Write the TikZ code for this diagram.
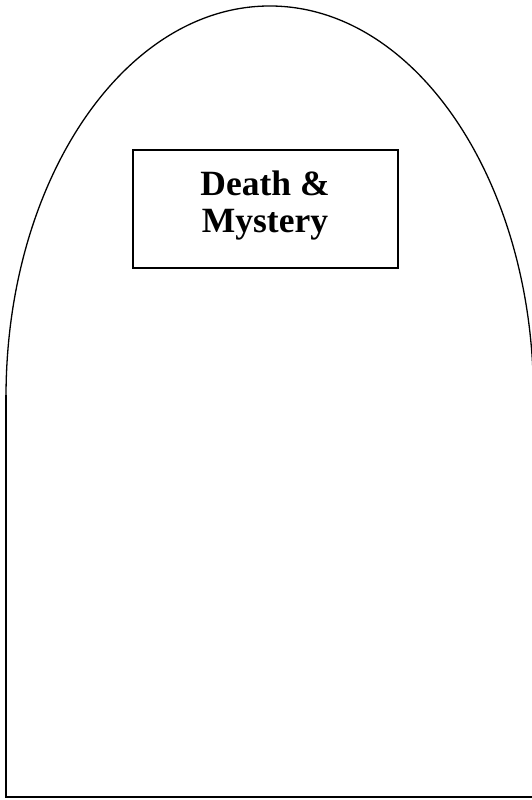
\documentclass[tikz,border=0pt]{standalone}
\usepackage{fontspec}
\setmainfont{Liberation Serif}
\begin{document}
\begin{tikzpicture}[x=1pt,y=1pt,
  archline/.style={line width=1.3pt, black},
  baseline2/.style={line width=2pt, black, line join=miter},
  titlebox/.style={draw, line width=1.3pt, minimum width=265pt, minimum height=118pt, inner sep=0pt},
  titletext/.style={font=\fontsize{35.5}{37}\selectfont\bfseries, align=center, inner sep=0pt}]
\useasboundingbox (0,0) rectangle (532,800);
% tombstone outline
\coordinate (bl) at (6,3);
\coordinate (lt) at (6,403);
\coordinate (br) at (533.5,3);
\draw[archline] (lt) arc[start angle=180, end angle=0, x radius=263.75, y radius=391];
\draw[baseline2] ([yshift=2pt]lt) -- (bl) -- (br) -- ++(0,400);
% title
\node[titlebox] (box) at (265.5,591) {};
\node[titletext] (title) at (265,594.5) {Death \&\\Mystery};
\end{tikzpicture}
\end{document}
